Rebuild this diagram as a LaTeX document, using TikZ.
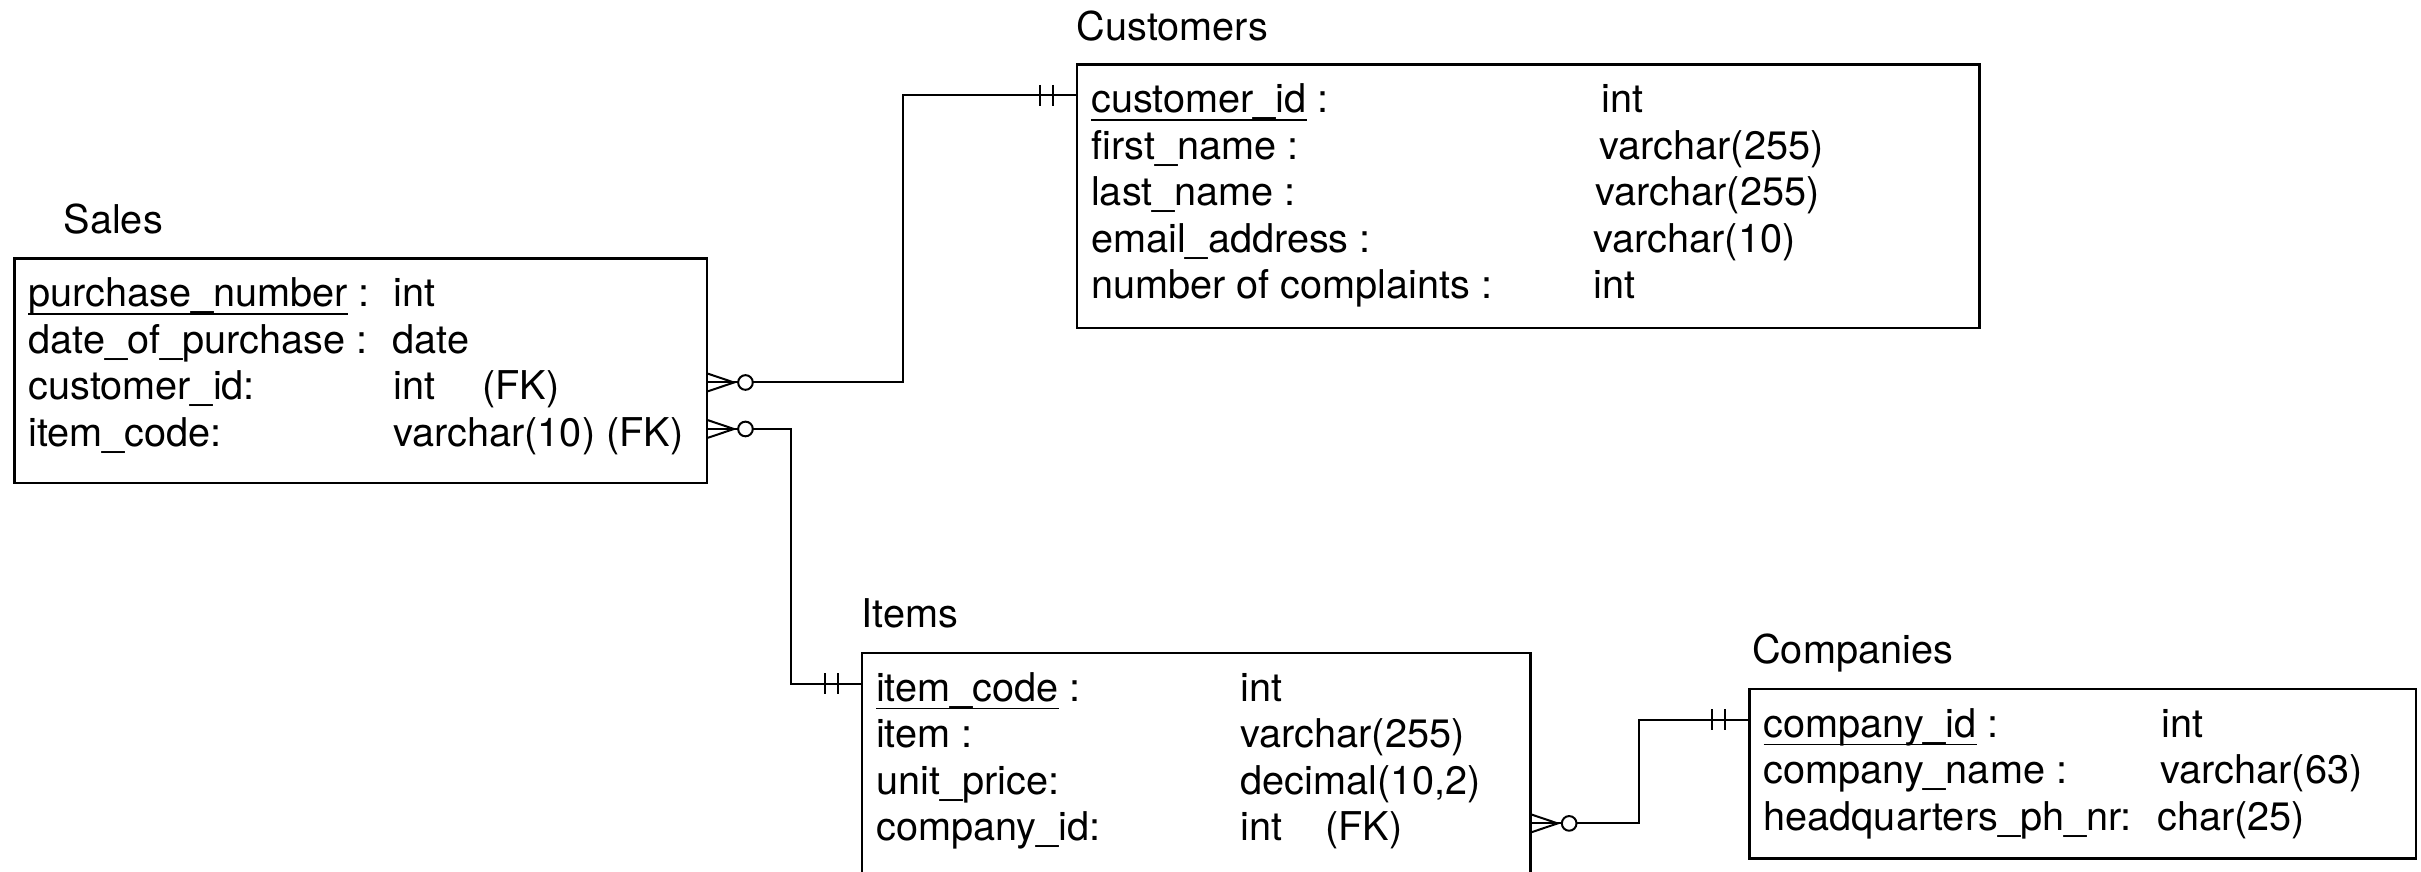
\documentclass[tikz,border=0pt]{standalone}
\usepackage{fontspec}
\setmainfont{TeX Gyre Heros}
\usetikzlibrary{positioning}
\newsavebox{\pkbox}
\newcommand{\pkey}[1]{\sbox\pkbox{#1}\rlap{\rule[-2.4pt]{\wd\pkbox}{0.4pt}}\usebox\pkbox}
\tikzset{fld/.style={inner sep=0pt, anchor=base west, text height=10.4pt, text depth=0pt, font=\fontsize{11.9}{14}\selectfont}}

\begin{document}
\begin{tikzpicture}[
		x=0.3pt, y=-0.3pt,
		tbl/.style={draw, rectangle, line width=0.7pt, inner sep=0pt, anchor=north west},
		ttl/.style={inner sep=0pt, font=\fontsize{11.9}{14}\selectfont},
		link/.style={line width=0.6pt},
		many/.pic={\draw[link] (0,-8.8) -- (26,0) -- (0,8.8); \draw[link, fill=white] (37.5,0) circle[radius=2.2pt];},
		one/.pic={\draw[link] (-36.4,-10.5) -- (-36.4,10.5) (-23.4,-10.5) -- (-23.4,10.5);}
		]
		\useasboundingbox (0,0) rectangle (2421,871);
		% Tables
		\node[tbl, minimum width=207.7pt, minimum height=67.3pt] (sales) at (13.3,257.3) {};
		\node[tbl, minimum width=270.7pt, minimum height=79.1pt] (customers) at (1076,63.3) {};
		\node[tbl, minimum width=200.5pt, minimum height=67.3pt] (items) at (861,651.7) {};
		\node[tbl, minimum width=200pt, minimum height=50.9pt] (companies) at (1748.3,687.7) {};
		
		\node[ttl, above right=7.2pt and 14.9pt of sales.north west, anchor=base west] (salesT) {Sales};
		\node[ttl, above right=6.8pt and 0pt of customers.north west, anchor=base west] (customersT) {Customers};
		\node[ttl, above right=7.2pt and 0pt of items.north west, anchor=base west] (itemsT) {Items};
		\node[ttl, above right=7.3pt and 1pt of companies.north west, anchor=base west] (companiesT) {Companies};
		
		% Fields
		\foreach \i/\f/\cx/\t in {1/{\pkey{purchase\_number} :}/379.5/int, 2/{date\_of\_purchase :}/378.5/date,
				3/{customer\_id:}/380/{\makebox[26.5pt][l]{int}(FK)}, 4/{item\_code:}/379.5/{varchar(10) (FK)}}{
			\node[fld] (sales-\i) at ([shift={(14.5,{49.5+46.5*(\i-1)})}]sales.north west) {\f};
			\node[fld] (sales-\i-t) at ([shift={(\cx,{49.5+46.5*(\i-1)})}]sales.north west) {\t};
		}
		\foreach \i/\f/\cx/\t in {1/{\pkey{customer\_id} :}/524.7/int, 2/{first\_name :}/523/varchar(255),
				3/{last\_name :}/519/varchar(255), 4/{email\_address :}/517/varchar(10), 5/{number of complaints :}/517/int}{
			\node[fld] (customers-\i) at ([shift={(14.5,{49.5+46.5*(\i-1)})}]customers.north west) {\f};
			\node[fld] (customers-\i-t) at ([shift={(\cx,{49.5+46.5*(\i-1)})}]customers.north west) {\t};
		}
		\foreach \i/\f/\cx/\t in {1/{\pkey{item\_code} :}/379/int, 2/{item :}/379/varchar(255),
				3/{unit\_price:}/379/{decimal(10,2)}, 4/{company\_id:}/379/{\makebox[25.4pt][l]{int}(FK)}}{
			\node[fld] (items-\i) at ([shift={(14.5,{49.5+46.5*(\i-1)})}]items.north west) {\f};
			\node[fld] (items-\i-t) at ([shift={(\cx,{49.5+46.5*(\i-1)})}]items.north west) {\t};
		}
		\foreach \i/\f/\cx/\t in {1/{\pkey{company\_id} :}/412.4/int, 2/{company\_name :}/411.7/varchar(63),
				3/{headquarters\_ph\_nr:}/408.4/char(25)}{
			\node[fld] (companies-\i) at ([shift={(14.5,{49.5+46.5*(\i-1)})}]companies.north west) {\f};
			\node[fld] (companies-\i-t) at ([shift={(\cx,{49.5+46.5*(\i-1)})}]companies.north west) {\t};
		}
		
		% Relationships
		\coordinate (sc) at (902.7,0);
		\coordinate (si) at (791,0);
		\coordinate (ic) at (1639,0);
		\draw[link] (sales.east |- sales-3.west) -| (sc |- customers-1.west) -- (customers.west |- customers-1.west);
		\draw[link] (sales.east |- sales-4.west) -| (si |- items-1.west) -- (items.west |- items-1.west);
		\draw[link] (items.east |- items-4.west) -| (ic |- companies-1.west) -- (companies.west |- companies-1.west);
		\pic at (sales.east |- sales-3.west) {many};
		\pic at (sales.east |- sales-4.west) {many};
		\pic at (items.east |- items-4.west) {many};
		\pic at (customers.west |- customers-1.west) {one};
		\pic at (items.west |- items-1.west) {one};
		\pic at (companies.west |- companies-1.west) {one};
	\end{tikzpicture}
\end{document}
